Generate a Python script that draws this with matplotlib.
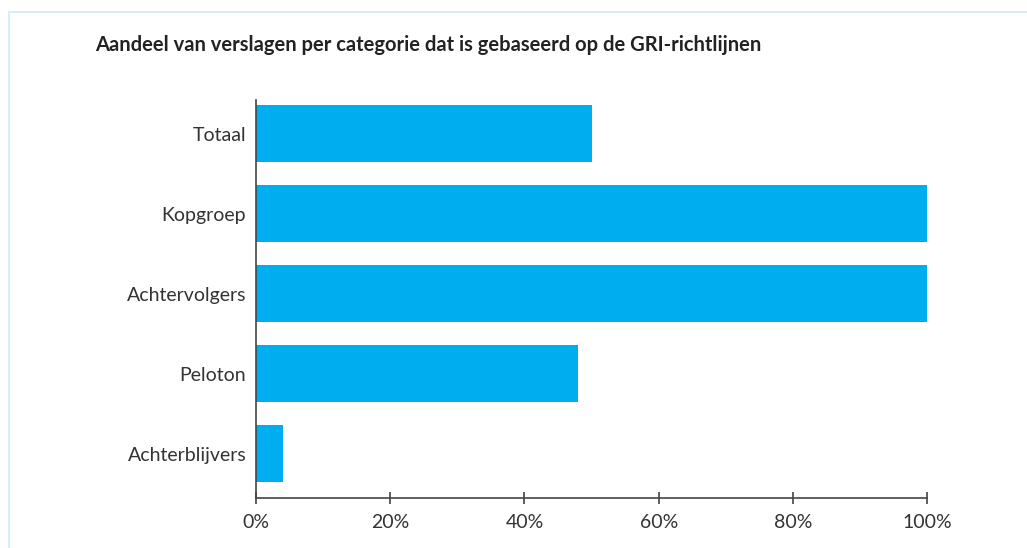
import matplotlib
matplotlib.use("Agg")
import matplotlib.pyplot as plt
from matplotlib.lines import Line2D

# share of reports per category based on GRI guidelines (%)
categories = ["Totaal", "Kopgroep", "Achtervolgers", "Peloton", "Achterblijvers"]
values = [50, 100, 100, 48, 4]
xticks = [0, 20, 40, 60, 80, 100]
xticklabels = ["0%", "20%", "40%", "60%", "80%", "100%"]
title = "Aandeel van verslagen per categorie dat is gebaseerd op de GRI-richtlijnen"

plt.rcParams["font.family"] = ["Lato", "DejaVu Sans"]

fig = plt.figure(figsize=(10.27, 5.48), dpi=100)
ax = fig.add_axes([0.2493, 0.0912, 0.6534, 0.7263])

pos = list(range(len(categories)))[::-1]
ax.barh(pos, values, height=0.7125, color="#00AEEF")
ax.set_ylim(-0.556, 4.419)
ax.set_xlim(0, 100)
ax.set_yticks(pos)
ax.set_yticklabels(categories, fontsize=14, color="#333333")
ax.set_xticks(xticks)
ax.set_xticklabels(xticklabels, fontsize=14, color="#333333")
ax.tick_params(axis="y", length=0, pad=7)
ax.tick_params(axis="x", direction="inout", length=9, width=1.2, color="#444444", pad=7)
for s in ["top", "right"]:
    ax.spines[s].set_visible(False)
for s in ["left", "bottom"]:
    ax.spines[s].set_color("#444444")
    ax.spines[s].set_linewidth(1.2)
    ax.spines[s].set_zorder(3)

fig.text(95 / 1027, 1 - 45 / 548, title, fontsize=14.5, fontweight="bold",
         color="#222222", va="center", ha="left")

# light frame around the chart
fig.add_artist(Line2D([9 / 1027, 9 / 1027], [0, 1 - 11.5 / 548], transform=fig.transFigure,
                      color="#D6EEF8", lw=1.5))
fig.add_artist(Line2D([9 / 1027, 1], [1 - 11.5 / 548, 1 - 11.5 / 548], transform=fig.transFigure,
                      color="#D6EEF8", lw=1.5))

fig.savefig("out.png", dpi=100)
